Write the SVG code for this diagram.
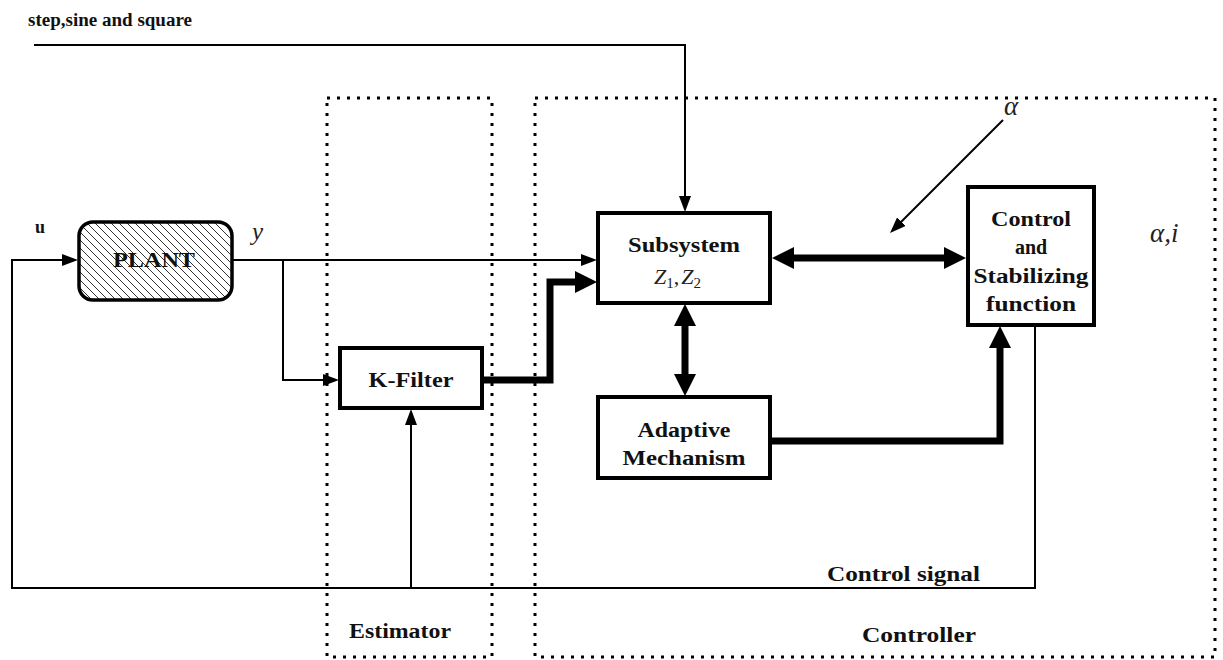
<svg xmlns="http://www.w3.org/2000/svg" width="1223" height="660" viewBox="0 0 1223 660">
<style>
.t{font-family:"Liberation Serif","Times New Roman",serif;font-weight:bold;fill:#111;}
.m{font-family:"Liberation Serif","Times New Roman",serif;font-style:italic;fill:#222;}
.box{fill:#fff;stroke:#000;stroke-width:4;}
.dot{fill:none;stroke:#000;stroke-width:3;stroke-dasharray:3 7;}
.thin{fill:none;stroke:#000;stroke-width:2;}
.thick{fill:none;stroke:#000;stroke-width:7;}
</style>
<defs>
<marker id="ah" markerUnits="userSpaceOnUse" markerWidth="16" markerHeight="12" refX="4" refY="6" orient="auto-start-reverse">
<path d="M0,0 L16,6 L0,12 z" fill="#000"/>
</marker>
<marker id="AH" markerUnits="userSpaceOnUse" markerWidth="22" markerHeight="22" refX="4" refY="11" orient="auto-start-reverse">
<path d="M0,0 L22,11 L0,22 z" fill="#000"/>
</marker>
<pattern id="hatch" patternUnits="userSpaceOnUse" width="8" height="8">
<path d="M0,0 L8,8 M-2,6 L2,10 M6,-2 L10,2" stroke="#333" stroke-width="1"/>
</pattern>
</defs>
<rect width="1223" height="660" fill="#fff"/>

<g id="regions">
<rect id="estimator-region" class="dot" x="327" y="98" width="165" height="559"/>
<rect id="controller-region" class="dot" x="535" y="98" width="680" height="559"/>
<text class="t" x="349" y="638" font-size="20" textLength="102" lengthAdjust="spacingAndGlyphs">Estimator</text>
<text class="t" x="862" y="642" font-size="20" textLength="114" lengthAdjust="spacingAndGlyphs">Controller</text>
</g>

<g id="connectors">
<path class="thin" d="M34,45 H685 V200" marker-end="url(#ah)"/>
<path class="thin" d="M1035,325 V588 H12 V260 H66" marker-end="url(#ah)" stroke-width="2.5"/>
<path class="thin" d="M411,588 V421" marker-end="url(#ah)"/>
<path class="thin" d="M232,260 H585" marker-end="url(#ah)"/>
<path class="thin" d="M283,260 V380 H327" marker-end="url(#ah)"/>
<path class="thick" d="M482,380 H550 V282 H579" marker-end="url(#AH)"/>
<path class="thick" d="M790,258 H948" marker-start="url(#AH)" marker-end="url(#AH)"/>
<path class="thick" d="M685,322 V378" marker-start="url(#AH)" marker-end="url(#AH)"/>
<path class="thick" d="M770,441 H1000 V344" marker-end="url(#AH)"/>
<path class="thin" d="M1003,120 L898.5,224.5" marker-end="url(#ah)"/>
</g>

<g id="labels">
<text class="t" x="28" y="26" font-size="18" textLength="164" lengthAdjust="spacingAndGlyphs">step,sine and square</text>
<text class="t" x="35" y="233" font-size="18">u</text>
<text class="m" x="252" y="240" font-size="25">y</text>
<text class="m" x="1004" y="115" font-size="27">α</text>
<text class="m" x="1150" y="242" font-size="27">α,<tspan>i</tspan></text>
<text class="t" x="827" y="581" font-size="20" textLength="153" lengthAdjust="spacingAndGlyphs">Control signal</text>
</g>

<g id="plant">
<rect x="79" y="222" width="153" height="78" rx="14" fill="url(#hatch)" stroke="#000" stroke-width="3.5"/>
<text class="t" x="154" y="267" font-size="21" text-anchor="middle" textLength="82" lengthAdjust="spacingAndGlyphs">PLANT</text>
</g>

<g id="kfilter">
<rect class="box" x="340" y="348" width="142" height="60"/>
<text class="t" x="411" y="387" font-size="20" text-anchor="middle" textLength="85" lengthAdjust="spacingAndGlyphs">K-Filter</text>
</g>

<g id="subsystem">
<rect class="box" x="598" y="213" width="172" height="90"/>
<text class="t" x="684" y="252" font-size="21" text-anchor="middle" textLength="112" lengthAdjust="spacingAndGlyphs">Subsystem</text>
<text x="654" y="284" font-size="22" font-family="Liberation Serif, serif" fill="#222"><tspan font-style="italic">Z</tspan><tspan font-size="15" dy="4">1</tspan><tspan dy="-4">,</tspan><tspan font-style="italic" dx="2">Z</tspan><tspan font-size="15" dy="4">2</tspan></text>
</g>

<g id="adaptive">
<rect class="box" x="598" y="397" width="172" height="81"/>
<text class="t" x="684" y="437" font-size="20" text-anchor="middle" textLength="93" lengthAdjust="spacingAndGlyphs">Adaptive</text>
<text class="t" x="684" y="465" font-size="20" text-anchor="middle" textLength="123" lengthAdjust="spacingAndGlyphs">Mechanism</text>
</g>

<g id="control">
<rect class="box" x="968" y="187" width="126" height="138"/>
<text class="t" x="1031" y="226" font-size="20" text-anchor="middle" textLength="80" lengthAdjust="spacingAndGlyphs">Control</text>
<text class="t" x="1031" y="254" font-size="20" text-anchor="middle">and</text>
<text class="t" x="1031" y="283" font-size="20" text-anchor="middle" textLength="115" lengthAdjust="spacingAndGlyphs">Stabilizing</text>
<text class="t" x="1031" y="311" font-size="20" text-anchor="middle" textLength="90" lengthAdjust="spacingAndGlyphs">function</text>
</g>
</svg>
